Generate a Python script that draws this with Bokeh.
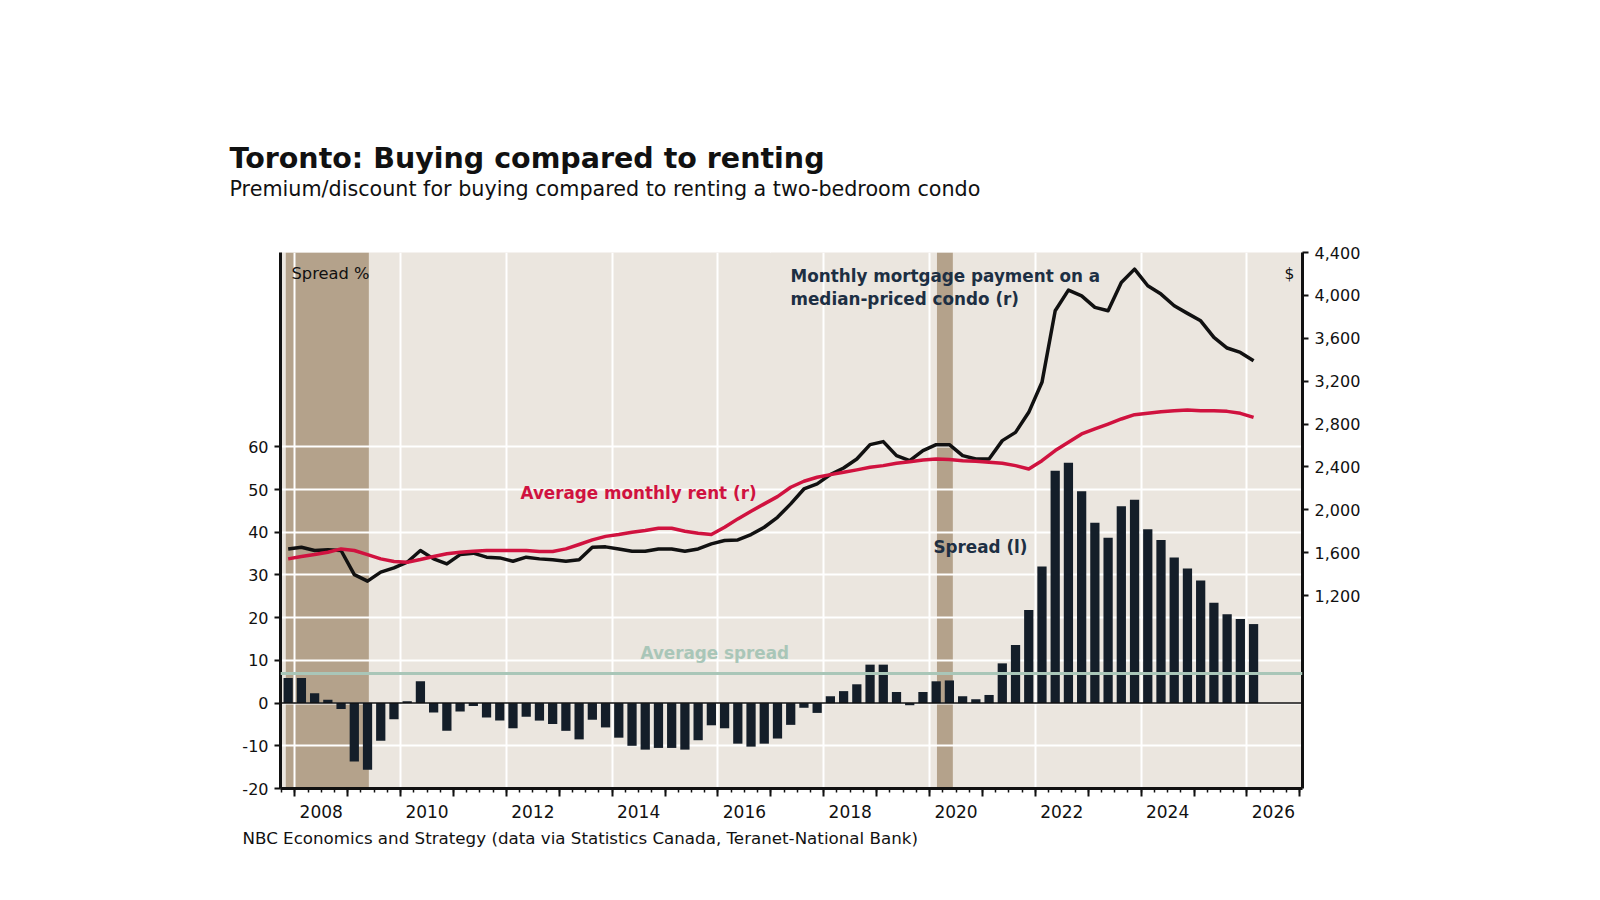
from bokeh.plotting import figure
from bokeh.models import (Range1d, LinearAxis, FixedTicker, NumeralTickFormatter,
                          BoxAnnotation, Span, Label, Title, ColumnDataSource)
from bokeh.embed import file_html
from bokeh.resources import INLINE

FONT = "DejaVu Sans"

# ---- data -------------------------------------------------------------------
first_year, first_q, n_quarters = 2007, 4, 74

# premium (+) / discount (-) of buying vs renting, %
spread_pct = [
    5.9, 5.9, 2.3, 0.8, -1.4, -13.7, -15.6, -8.8, -3.8, 0.4,
    5.1, -2.2, -6.5, -2.0, -0.7, -3.4, -4.1, -5.9, -3.2, -4.1,
    -4.9, -6.5, -8.5, -3.9, -5.7, -8.1, -10.0, -10.9, -10.5, -10.5,
    -10.9, -8.7, -5.2, -5.9, -9.5, -10.2, -9.5, -8.3, -5.1, -1.1,
    -2.3, 1.6, 2.8, 4.4, 9.0, 9.0, 2.6, -0.5, 2.6, 5.1,
    5.3, 1.6, 0.9, 1.9, 9.3, 13.6, 21.8, 32.0, 54.4, 56.3,
    49.6, 42.2, 38.7, 46.1, 47.6, 40.7, 38.2, 34.1, 31.5, 28.7,
    23.5, 20.8, 19.7, 18.5,
]

# monthly mortgage payment on a median-priced condo, $
mortgage_payment = [
    1635, 1651, 1620, 1626, 1620, 1395, 1334, 1418, 1458, 1511,
    1620, 1542, 1495, 1582, 1595, 1558, 1551, 1520, 1558, 1542,
    1533, 1520, 1533, 1651, 1654, 1635, 1613, 1613, 1635, 1635,
    1613, 1635, 1682, 1713, 1719, 1769, 1837, 1930, 2055, 2194,
    2241, 2328, 2390, 2474, 2608, 2636, 2505, 2458, 2552, 2607,
    2607, 2505, 2474, 2474, 2645, 2722, 2909, 3189, 3857, 4049,
    3996, 3888, 3857, 4121, 4245, 4090, 4012, 3903, 3832, 3763,
    3608, 3509, 3468, 3390,
]

# average monthly rent for a two-bedroom condo, $
average_rent = [
    1542, 1564, 1582, 1604, 1635, 1620, 1582, 1542, 1517, 1511,
    1536, 1564, 1589, 1604, 1613, 1620, 1620, 1620, 1620, 1610,
    1610, 1635, 1676, 1719, 1752, 1769, 1790, 1806, 1828, 1828,
    1800, 1781, 1769, 1837, 1915, 1986, 2055, 2123, 2210, 2266,
    2303, 2328, 2350, 2372, 2396, 2412, 2434, 2449, 2465, 2474,
    2468, 2458, 2452, 2443, 2434, 2412, 2381, 2458, 2552, 2629,
    2707, 2754, 2800, 2847, 2887, 2900, 2915, 2924, 2931, 2924,
    2924, 2918, 2900, 2862,
]

average_spread = 6.9
recessions = [(2007.83, 2009.40), (2020.14, 2020.44)]

left_ticks = [-20, -10, 0, 10, 20, 30, 40, 50, 60]
right_ticks = [1200, 1600, 2000, 2400, 2800, 3200, 3600, 4000, 4400]
year_labels = ["2008", "2010", "2012", "2014", "2016", "2018",
               "2020", "2022", "2024", "2026"]

TITLE = "Toronto: Buying compared to renting"
SUBTITLE = "Premium/discount for buying compared to renting a two-bedroom condo"
SOURCE = "NBC Economics and Strategy (data via Statistics Canada, Teranet-National Bank)"

# ---- quarter labels and their mid-quarter positions --------------------------
quarters = []
y, q = first_year, first_q
for _ in range(n_quarters):
    quarters.append(f"{y}Q{q}")
    q += 1
    if q > 4:
        y, q = y + 1, 1


def mid_quarter(label):
    yr, qq = label.split("Q")
    return int(yr) + (int(qq) - 1) / 4 + 0.125


src = ColumnDataSource(dict(
    quarter=quarters,
    x=[mid_quarter(s) for s in quarters],
    spread=spread_pct,
    mortgage=mortgage_payment,
    rent=average_rent,
))

# ---- figure -----------------------------------------------------------------
W, H = 1600, 900
FL, FR, FT, FB = 280, 1302, 252, 788   # frame edges on the page

INK = "#111111"
NAVY = "#1d2f43"
RED = "#d0123f"
TEAL = "#a9c6b8"
BAR = "#141e29"

p = figure(width=W, height=H, output_backend="svg", toolbar_location=None,
           title=None,
           x_range=Range1d(2007.73, 2027.05), y_range=Range1d(-20, 105.5),
           min_border_left=FL, min_border_right=W - FR,
           min_border_top=FT, min_border_bottom=H - FB,
           background_fill_color="#ebe6df", border_fill_color="white",
           outline_line_color=None)
p.extra_y_ranges = {"usd": Range1d(-600, 4400)}

# recession shading sits under the grid lines
shades = [BoxAnnotation(left=a, right=b, fill_color="#b4a28b", fill_alpha=1.0,
                        line_alpha=0, level="underlay") for a, b in recessions]
p.center = shades + list(p.center)

p.xgrid.ticker = FixedTicker(ticks=list(range(2008, 2027, 2)))
p.ygrid.ticker = FixedTicker(ticks=[t for t in left_ticks if t > -20])
for g in (p.xgrid, p.ygrid):
    g.grid_line_color = "white"
    g.grid_line_width = 2

# bottom axis: long ticks at years, short ticks at quarters (no labels)
xa = p.xaxis[0]
xa.ticker = FixedTicker(ticks=list(range(2008, 2028)),
                        minor_ticks=[2007.75 + 0.25 * k for k in range(78)])
xa.major_label_overrides = {yr: "" for yr in range(2008, 2028)}
xa.major_label_text_font_size = "0px"
xa.major_label_standoff = 0
xa.axis_line_width = 3
xa.axis_line_color = INK
xa.major_tick_out, xa.major_tick_in = 8, 0
xa.minor_tick_out, xa.minor_tick_in = 4, 0
xa.major_tick_line_width = 2
xa.minor_tick_line_width = 1.5
xa.major_tick_line_color = INK
xa.minor_tick_line_color = INK

# second bottom axis carries the year labels, centred in each year
year_pos = [int(lab) + 0.5 for lab in year_labels]
xb = LinearAxis(ticker=FixedTicker(ticks=year_pos),
                major_label_overrides=dict(zip(year_pos, year_labels)),
                axis_line_color=None, major_tick_line_color=None,
                minor_tick_line_color=None, major_tick_out=0, major_tick_in=0,
                minor_tick_out=0, minor_tick_in=0, major_label_standoff=8,
                major_label_text_font=FONT, major_label_text_font_size="17px",
                major_label_text_color=INK)
p.add_layout(xb, "below")

ya = p.yaxis[0]
ya.ticker = FixedTicker(ticks=left_ticks)
ya.major_label_overrides = {t: str(t) for t in left_ticks if t < 0}
ra = LinearAxis(y_range_name="usd", ticker=FixedTicker(ticks=right_ticks),
                formatter=NumeralTickFormatter(format="0,0"))
p.add_layout(ra, "right")
for ax in (ya, ra):
    ax.axis_line_width = 3
    ax.axis_line_color = INK
    ax.major_tick_out, ax.major_tick_in = 6, 0
    ax.minor_tick_out, ax.minor_tick_in = 0, 0
    ax.major_tick_line_width = 2
    ax.major_tick_line_color = INK
    ax.major_label_text_font = FONT
    ax.major_label_text_font_size = "16px"
    ax.major_label_text_color = INK
    ax.major_label_standoff = 6

# ---- headings and source line ---------------------------------------------
# an unlabelled white band between the frame top and the subtitle
gap = LinearAxis(ticker=FixedTicker(ticks=[2017]), axis_line_color=None,
                 major_tick_line_color="white", minor_tick_line_color=None,
                 major_tick_out=52, minor_tick_out=0, major_tick_in=0,
                 minor_tick_in=0, major_label_overrides={2017: ""},
                 major_label_text_font_size="0px", major_label_standoff=0)
p.add_layout(gap, "above")
p.add_layout(Title(text=SUBTITLE, align="left", offset=229 - FL, standoff=0,
                   text_font=FONT, text_font_size="20.7px",
                   text_font_style="normal", text_color=INK), "above")
p.add_layout(Title(text=TITLE, align="left", offset=229 - FL, standoff=0,
                   text_font=FONT, text_font_size="28.5px",
                   text_font_style="bold", text_color=INK), "above")
p.add_layout(Title(text=SOURCE, align="left", offset=242 - FL, standoff=10,
                   text_font=FONT, text_font_size="16.7px",
                   text_font_style="normal", text_color=INK), "below")

# ---- marks ------------------------------------------------------------------
p.vbar(x="x", top="spread", bottom=0, width=0.175, source=src,
       fill_color=BAR, line_color=None)
p.add_layout(Span(location=0, dimension="width", line_color=INK, line_width=1.5))
p.add_layout(Span(location=average_spread, dimension="width",
                  line_color=TEAL, line_width=3))
p.line(x="x", y="mortgage", source=src, y_range_name="usd",
       line_color=INK, line_width=3.5, line_join="round")
p.line(x="x", y="rent", source=src, y_range_name="usd",
       line_color=RED, line_width=3.5, line_join="round")


# ---- in-chart notes -----------------------------------------------------------
def note(text, left, middle, size, color=INK, bold=False):
    """Place text by page pixel position (left edge, vertical middle)."""
    p.add_layout(Label(x=left - FL, y=FB - middle, x_units="screen",
                       y_units="screen", text=text, text_font=FONT,
                       text_font_size=f"{size}px", text_color=color,
                       text_font_style="bold" if bold else "normal",
                       text_baseline="middle", text_align="left"))


note("Spread %", 291, 273, 16.3)
note("$", 1284, 273, 15.5)
note("Monthly mortgage payment on a", 790, 275.5, 16.8, NAVY, True)
note("median-priced condo (r)", 790, 298, 16.8, NAVY, True)
note("Average monthly rent (r)", 520, 492, 16.8, RED, True)
note("Spread (l)", 933, 546, 16.8, NAVY, True)
note("Average spread", 640, 652.5, 16.8, TEAL, True)

open("out.html", "w").write(file_html(p, INLINE))
